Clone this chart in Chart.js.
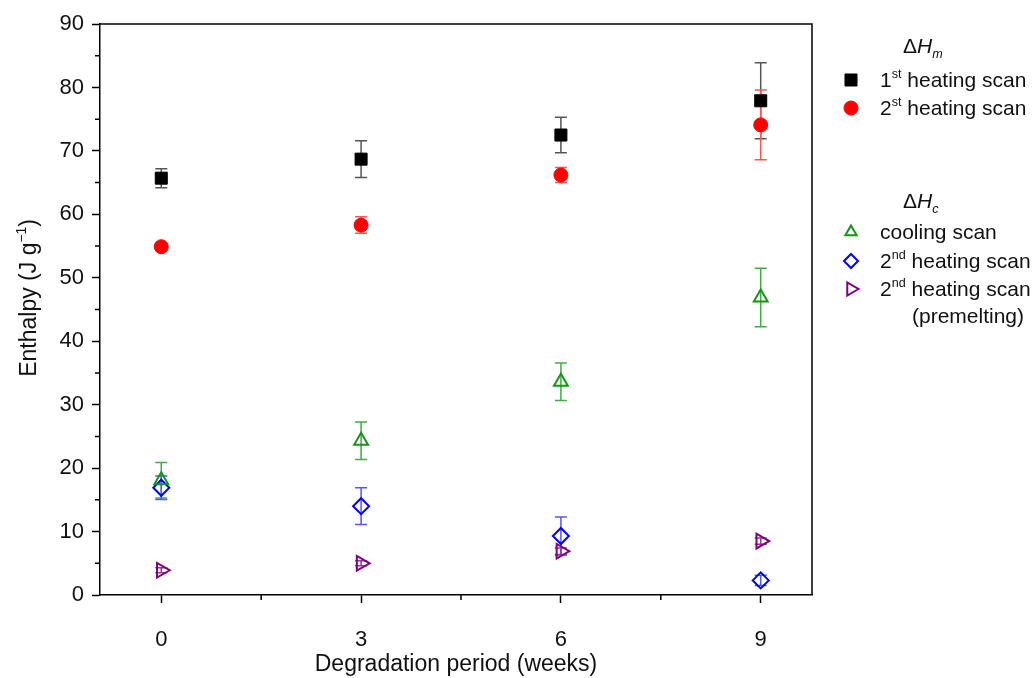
<!DOCTYPE html>
<html><head><meta charset="utf-8">
<script src="https://cdn.jsdelivr.net/npm/chart.js@4.4.1/dist/chart.umd.min.js"></script>
<style>html,body{margin:0;padding:0;background:#fff;}#wrap{width:1034px;height:678px;position:relative;}</style>
</head><body><div id="wrap"><canvas id="c" width="1034" height="678"></canvas></div>
<script>
// ---- data ----
const weeks = [0, 3, 6, 9];
const xTickValues = [0, 3, 6, 9];
const xMinorTicks = [1.5, 4.5, 7.5];
const yTickValues = [0, 10, 20, 30, 40, 50, 60, 70, 80, 90];
const yMinorTicks = [5, 15, 25, 35, 45, 55, 65, 75, 85];
const hm1st = [65.7, 68.7, 72.5, 77.9];
const hm1stErr = [1.5, 2.9, 2.8, 6.0];
const hm2nd = [54.9, 58.3, 66.2, 74.1];
const hm2ndErr = [0.6, 1.3, 1.2, 5.5];
const hcCooling = [18.1, 24.3, 33.6, 46.9];
const hcCoolingErr = [2.8, 2.95, 2.95, 4.6];
const hcHeating = [16.9, 14.0, 9.3, 2.3];
const hcHeatingErr = [1.85, 2.9, 3.0, 0.8];
const hcPremelt = [3.9, 5.0, 6.9, 8.5];
const hcPremeltErr = [0.4, 0.4, 0.5, 0.5];

const FONT = "'Liberation Sans', Arial, sans-serif";
const pts = v => weeks.map((x, i) => ({x: x, y: v[i]}));

const datasets = [
  {label: '1st heating scan', data: pts(hm1st), err: hm1stErr, errColor: '#555555', legendRadius: 8.5,
   pointStyle: 'rect', pointRadius: 8.5, backgroundColor: '#000', borderColor: '#000', borderWidth: 1},
  {label: '2st heating scan', data: pts(hm2nd), err: hm2ndErr, errColor: '#ff5555', legendRadius: 7,
   pointStyle: 'circle', pointRadius: 7, backgroundColor: '#ff0000', borderColor: '#ff0000', borderWidth: 1},
  {label: 'cooling scan', data: pts(hcCooling), err: hcCoolingErr, errColor: '#44aa44', legendRadius: 6.5,
   pointStyle: 'triangle', pointRadius: 8, backgroundColor: 'rgba(0,0,0,0)', borderColor: '#159615', borderWidth: 2},
  {label: '2nd heating scan', data: pts(hcHeating), err: hcHeatingErr, errColor: '#5555ff', legendRadius: 7,
   pointStyle: 'rectRot', pointRadius: 8, backgroundColor: 'rgba(0,0,0,0)', borderColor: '#0000ff', borderWidth: 2},
  {label: '2nd heating scan (premelting)', data: pts(hcPremelt), err: hcPremeltErr, errColor: '#993399', legendRadius: 7.5,
   pointStyle: 'triangle', pointRotation: 90, pointRadius: 8.5, backgroundColor: 'rgba(0,0,0,0)', borderColor: '#800080', borderWidth: 2}
];
datasets.forEach(d => { d.showLine = false; d.pointHoverRadius = d.pointRadius; });

function richWidth(ctx, parts, size) {
  let w = 0;
  parts.forEach(p => {
    const s = (p.sup || p.sub) ? size * 0.6 : size;
    ctx.font = (p.it ? 'italic ' : '') + s + 'px ' + FONT;
    w += ctx.measureText(p.t).width;
  });
  return w;
}
function drawRich(ctx, x, y, parts, size, color) {
  ctx.save();
  ctx.fillStyle = color || '#111';
  ctx.textBaseline = 'alphabetic';
  ctx.textAlign = 'left';
  let cx = x;
  parts.forEach(p => {
    const s = (p.sup || p.sub) ? size * 0.6 : size;
    ctx.font = (p.it ? 'italic ' : '') + s + 'px ' + FONT;
    const dy = p.sup ? -size * 0.42 : (p.sub ? size * 0.22 : 0);
    ctx.fillText(p.t, cx, y + dy);
    cx += ctx.measureText(p.t).width;
  });
  ctx.restore();
}

const errorBars = {
  id: 'errorBars',
  beforeDatasetsDraw(chart) {
    const ctx = chart.ctx, xs = chart.scales.x, ys = chart.scales.y;
    chart.data.datasets.forEach(ds => {
      ctx.save();
      ctx.strokeStyle = ds.errColor;
      ctx.lineWidth = 1.5;
      ds.data.forEach((p, i) => {
        const px = xs.getPixelForValue(p.x);
        const top = ys.getPixelForValue(p.y + ds.err[i]);
        const bot = ys.getPixelForValue(p.y - ds.err[i]);
        ctx.beginPath();
        ctx.moveTo(px, top); ctx.lineTo(px, bot);
        ctx.moveTo(px - 6, top); ctx.lineTo(px + 6, top);
        ctx.moveTo(px - 6, bot); ctx.lineTo(px + 6, bot);
        ctx.stroke();
      });
      ctx.restore();
    });
  }
};

const frameAndText = {
  id: 'frameAndText',
  afterDraw(chart) {
    const ctx = chart.ctx, a = chart.chartArea, xs = chart.scales.x, ys = chart.scales.y;
    ctx.save();
    ctx.strokeStyle = '#000';
    ctx.lineWidth = 1.5;
    ctx.beginPath();
    ctx.moveTo(a.left, a.top); ctx.lineTo(a.right, a.top); ctx.lineTo(a.right, a.bottom);
    yMinorTicks.forEach(v => { const py = ys.getPixelForValue(v); ctx.moveTo(a.left, py); ctx.lineTo(a.left - 5, py); });
    xMinorTicks.forEach(v => { const px = xs.getPixelForValue(v); ctx.moveTo(px, a.bottom); ctx.lineTo(px, a.bottom + 5); });
    ctx.stroke();
    ctx.restore();

    // x axis title
    ctx.save();
    ctx.fillStyle = '#111';
    ctx.font = '23px ' + FONT;
    ctx.textAlign = 'center';
    ctx.textBaseline = 'middle';
    ctx.fillText('Degradation period (weeks)', (a.left + a.right) / 2, 665);
    ctx.restore();

    // y axis title (rotated)
    const yParts = [{t: 'Enthalpy (J g'}, {t: '\u22121', sup: true}, {t: ')'}];
    ctx.save();
    ctx.translate(36, 298);
    ctx.rotate(-Math.PI / 2);
    const w = richWidth(ctx, yParts, 23);
    drawRich(ctx, -w / 2, 0, yParts, 23);
    ctx.restore();

    // legend
    const ds = chart.data.datasets;
    const size = 21;
    const hdr1 = [{t: '\u0394'}, {t: 'H', it: true}, {t: 'm', it: true, sub: true}];
    const hdr2 = [{t: '\u0394'}, {t: 'H', it: true}, {t: 'c', it: true, sub: true}];
    drawRich(ctx, 903, 53, hdr1, size);
    drawRich(ctx, 903, 208, hdr2, size);
    const items = [
      {d: 0, y: 80, parts: [{t: '1'}, {t: 'st', sup: true}, {t: ' heating scan'}]},
      {d: 1, y: 108, parts: [{t: '2'}, {t: 'st', sup: true}, {t: ' heating scan'}]},
      {d: 2, y: 232, parts: [{t: 'cooling scan'}]},
      {d: 3, y: 261, parts: [{t: '2'}, {t: 'nd', sup: true}, {t: ' heating scan'}]},
      {d: 4, y: 289, parts: [{t: '2'}, {t: 'nd', sup: true}, {t: ' heating scan'}]}
    ];
    items.forEach(it => {
      const d = ds[it.d];
      ctx.save();
      ctx.strokeStyle = d.borderColor;
      ctx.fillStyle = d.backgroundColor;
      ctx.lineWidth = d.borderWidth;
      Chart.helpers.drawPoint(ctx, {pointStyle: d.pointStyle, rotation: d.pointRotation || 0,
        radius: d.legendRadius, borderWidth: d.borderWidth}, 851, it.y);
      ctx.restore();
      drawRich(ctx, 880, it.y + 7, it.parts, size);
    });
    drawRich(ctx, 912, 323, [{t: '(premelting)'}], size);
  }
};

new Chart(document.getElementById('c'), {
  type: 'scatter',
  data: {datasets: datasets},
  options: {
    responsive: false,
    animation: false,
    devicePixelRatio: 1,
    layout: {padding: {left: 0, right: 222, top: 24, bottom: 0}},
    plugins: {legend: {display: false}, tooltip: {enabled: false}},
    scales: {
      x: {
        type: 'linear', position: 'bottom', min: -0.92, max: 9.77,
        afterBuildTicks: s => { s.ticks = xTickValues.map(v => ({value: v})); },
        afterFit: s => { s.height = 83; },
        grid: {drawOnChartArea: false, drawTicks: true, tickLength: 8, tickWidth: 1.5, tickColor: '#000'},
        border: {display: true, color: '#000', width: 1.5},
        ticks: {font: {size: 22, family: FONT}, color: '#111', padding: 24, maxRotation: 0}
      },
      y: {
        type: 'linear', position: 'left', min: 0, max: 90,
        afterBuildTicks: s => { s.ticks = yTickValues.map(v => ({value: v})); },
        afterFit: s => { s.width = 100; },
        grid: {drawOnChartArea: false, drawTicks: true, tickLength: 8, tickWidth: 1.5, tickColor: '#000'},
        border: {display: true, color: '#000', width: 1.5},
        ticks: {font: {size: 22, family: FONT}, color: '#111', padding: 8}
      }
    }
  },
  plugins: [errorBars, frameAndText]
});
</script></body></html>
